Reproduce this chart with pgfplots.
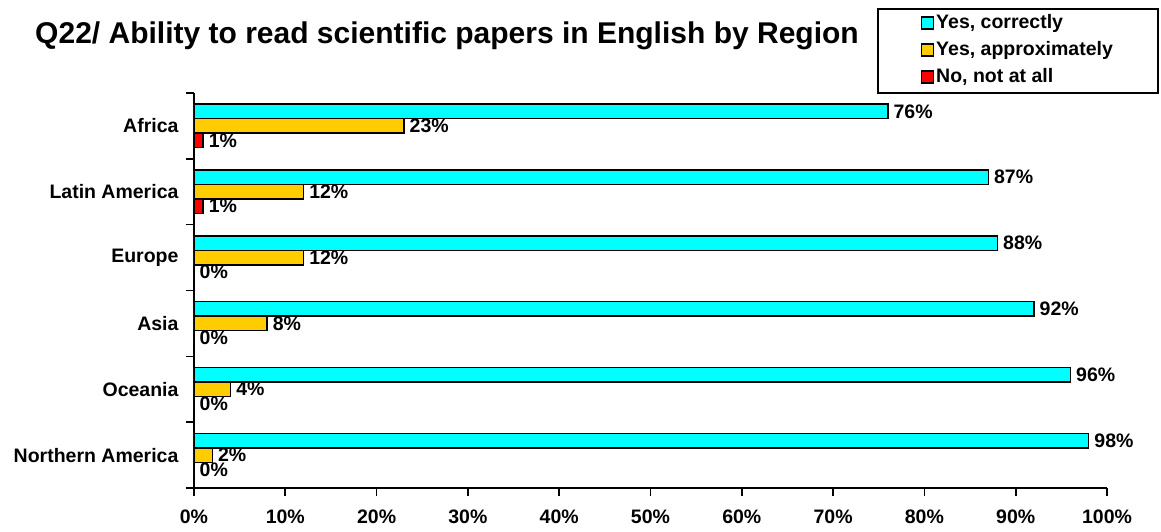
\documentclass[border=0pt]{standalone}
\usepackage{fontspec}
\setmainfont{Liberation Sans}
\usepackage{pgfplots}
\pgfplotsset{compat=1.18}

\definecolor{barcyan}{HTML}{00FFFF}
\definecolor{baryellow}{HTML}{FFCC00}
\definecolor{barred}{HTML}{FF0000}

\newcommand{\lbl}{\fontsize{19.5}{22}\selectfont\bfseries}

\begin{document}
\begin{tikzpicture}
\begin{axis}[
    at={(0pt,0pt)}, anchor=south west,
    scale only axis,
    width=913pt, height=395pt,
    xbar,
    bar width=14.5pt,
    xmin=0, xmax=100,
    ymin=-0.5, ymax=5.5,
    axis lines*=left,
    axis line style={line width=1.6pt},
    xtick={0,10,...,100},
    xticklabels={0\%,10\%,20\%,30\%,40\%,50\%,60\%,70\%,80\%,90\%,100\%},
    ytick={-0.5,0.5,...,5.5},
    yticklabels={},
    extra y ticks={0,1,2,3,4,5},
    extra y tick labels={Northern America,Oceania,Asia,Europe,Latin America,Africa},
    extra y tick style={major tick length=0pt, yticklabel style={xshift=-12pt}},
    tick align=outside,
    major tick length=8pt,
    tick style={line width=1.6pt, black},
    tick label style={font=\lbl},
    xticklabel style={yshift=-10pt},
    /pgf/number format/assume math mode=true,
    point meta=x,
    nodes near coords={\pgfmathprintnumber{\pgfplotspointmeta}\%},
    nodes near coords style={font=\lbl, anchor=west, inner xsep=5pt},
    legend style={
        at={(0.748,1.215)}, anchor=north west,
        draw=black, line width=1.6pt,
        inner xsep=43pt, inner ysep=6pt,
        row sep=9pt,
        nodes={inner ysep=0pt, text height=14pt, text depth=4pt, font=\lbl},
    },
    legend cell align=left,
]
\addplot[fill=barcyan, draw=black, line width=1.5pt, bar shift=14.5pt,
    legend image code/.code={\draw[fill=barcyan,draw=black,line width=1.5pt] (0pt,-5pt) rectangle (12pt,7pt);}]
    coordinates {(98,0) (96,1) (92,2) (88,3) (87,4) (76,5)};
\addplot[fill=baryellow, draw=black, line width=1.5pt, bar shift=0pt,
    legend image code/.code={\draw[fill=baryellow,draw=black,line width=1.5pt] (0pt,-5pt) rectangle (12pt,7pt);}]
    coordinates {(2,0) (4,1) (8,2) (12,3) (12,4) (23,5)};
\addplot[fill=barred, draw=black, line width=1.5pt, bar shift=-14.5pt,
    legend image code/.code={\draw[fill=barred,draw=black,line width=1.5pt] (0pt,-5pt) rectangle (12pt,7pt);}]
    coordinates {(0,0) (0,1) (0,2) (0,3) (1,4) (1,5)};
\legend{{Yes, correctly},{Yes, approximately},{No, not at all}}
\end{axis}
\node[font=\fontsize{30}{33}\selectfont\bfseries] at (253pt,452pt)
    {Q22/ Ability to read scientific papers in English by Region};
\pgfresetboundingbox
\path (-194pt,-43pt) rectangle (967pt,488pt);
\end{tikzpicture}
\end{document}
